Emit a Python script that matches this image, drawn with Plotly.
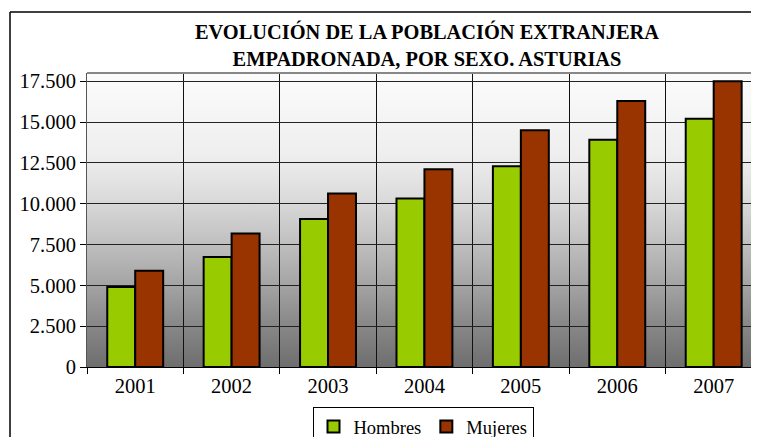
import base64
import plotly.graph_objects as go

years = ['2001', '2002', '2003', '2004', '2005', '2006', '2007']
hombres = [4900, 6740, 9060, 10310, 12290, 13920, 15200]
mujeres = [5890, 8170, 10620, 12100, 14490, 16280, 17490]
y_ticks = [0, 2500, 5000, 7500, 10000, 12500, 15000, 17500]
y_labels = ['0', '2.500', '5.000', '7.500', '10.000', '12.500', '15.000', '17.500']

GREEN = '#99CC00'
BROWN = '#993300'
FONT = 'Liberation Serif'

# the page body has an 8px margin; the figure keeps the window size and its
# right/bottom 8px simply fall outside the visible area
W, H = 759, 437
L, T, R, B = 79, 65, 8, 78
PW, PH = W - L - R, H - T - B

# vertical white-to-grey fill behind the bars, like the Excel original
grad_svg = (
    "<svg xmlns='http://www.w3.org/2000/svg' width='100' height='100' preserveAspectRatio='none'>"
    "<defs><linearGradient id='g' x1='0' y1='0' x2='0' y2='1'>"
    "<stop offset='0' stop-color='#fcfcfc'/>"
    "<stop offset='0.28' stop-color='#eeeeee'/>"
    "<stop offset='0.42' stop-color='#dcdcdc'/>"
    "<stop offset='0.56' stop-color='#c3c3c3'/>"
    "<stop offset='0.70' stop-color='#a8a8a8'/>"
    "<stop offset='0.84' stop-color='#8b8b8b'/>"
    "<stop offset='1' stop-color='#6e6e6e'/>"
    "</linearGradient></defs>"
    "<rect width='100' height='100' fill='url(#g)'/></svg>"
)
grad_uri = 'data:image/svg+xml;base64,' + base64.b64encode(grad_svg.encode()).decode()

fig = go.Figure()

fig.add_trace(go.Bar(
    x=years, y=hombres, name='Hombres',
    marker=dict(color=GREEN, line=dict(color='black', width=2)),
))
fig.add_trace(go.Bar(
    x=years, y=mujeres, name='Mujeres',
    marker=dict(color=BROWN, line=dict(color='black', width=2)),
))

fig.update_layout(
    width=W,
    height=H,
    barmode='group',
    bargap=0.42,
    bargroupgap=0,
    paper_bgcolor='white',
    plot_bgcolor='rgba(0,0,0,0)',
    font=dict(family=FONT, color='black', size=20),
    margin=dict(l=L, r=R, t=T, b=B, autoexpand=False),
    title=dict(
        text='EVOLUCIÓN DE LA POBLACIÓN EXTRANJERA<br>EMPADRONADA, POR SEXO. ASTURIAS',
        font=dict(family=FONT, size=20.4, color='black', weight='bold'),
        x=419 / W, xanchor='center',
        y=1 - 31 / H, yanchor='top',
    ),
    xaxis=dict(
        type='category',
        range=[-0.5, 6.47],
        tickson='boundaries',
        ticks='outside', ticklen=6, tickcolor='black',
        showgrid=True, gridcolor='#111111', gridwidth=1,
        showline=True, linecolor='black', linewidth=1,
        tickfont=dict(family=FONT, size=20.5, color='black'),
        automargin=False,
    ),
    yaxis=dict(
        range=[0, 18000],
        tickvals=y_ticks, ticktext=y_labels,
        ticks='outside', ticklen=6, tickcolor='black',
        showgrid=True, gridcolor='#222222', gridwidth=1,
        showline=True, linecolor='#555555', linewidth=1,
        zeroline=False,
        tickfont=dict(family=FONT, size=20.5, color='black'),
        automargin=False,
    ),
    legend=dict(
        orientation='h',
        x=415 / W, xanchor='center', xref='container',
        y=1 - 399 / H, yanchor='top', yref='container',
        bordercolor='black', borderwidth=1,
        bgcolor='white',
        font=dict(family=FONT, size=18.5, color='black'),
        itemwidth=30,
        traceorder='normal',
    ),
    images=[dict(
        source=grad_uri, xref='paper', yref='paper',
        x=0, y=1, sizex=1, sizey=1,
        sizing='stretch', layer='below',
    )],
    shapes=[
        # outer chart border: only left and top edges fall inside the crop
        dict(type='line', xref='paper', yref='paper',
             x0=(2 - L) / PW, x1=(2 - L) / PW, y0=-0.5, y1=(T + PH - 4) / PH,
             line=dict(color='black', width=1.5), layer='below'),
        dict(type='line', xref='paper', yref='paper',
             x0=(2 - L) / PW, x1=1.1, y0=(T + PH - 4) / PH, y1=(T + PH - 4) / PH,
             line=dict(color='black', width=1.5), layer='below'),
        # top edge of the plot area
        dict(type='line', xref='paper', yref='paper',
             x0=0, x1=1, y0=1, y1=1,
             line=dict(color='#888888', width=2)),
    ],
)

fig.write_html('out.html')
